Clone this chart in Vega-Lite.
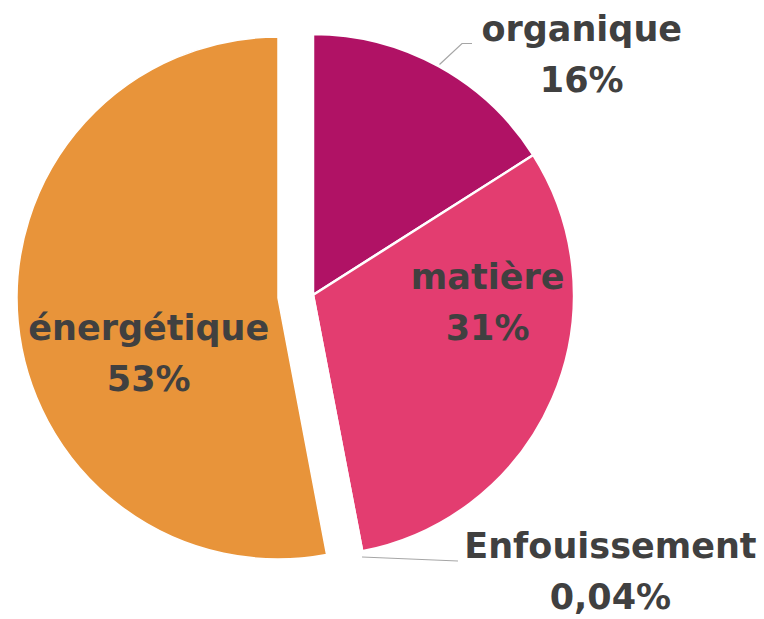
{
  "$schema": "https://vega.github.io/schema/vega-lite/v6.json",
  "width": 626,
  "height": 590,
  "autosize": "none",
  "padding": {"left": 0, "top": 0, "right": 138, "bottom": 29},
  "background": "white",
  "view": {"stroke": null},
  "data": {
    "values": [
      {"cat": "organique", "rank": 1, "value": 16, "label": "organique\n16%"},
      {"cat": "matière", "rank": 2, "value": 31, "label": "matière\n31%"},
      {"cat": "Enfouissement", "rank": 3, "value": 0.04, "label": "Enfouissement\n0,04%"},
      {"cat": "énergétique", "rank": 4, "value": 53, "label": "énergétique\n53%"}
    ]
  },
  "layer": [
    {
      "mark": {"type": "arc", "outerRadius": 261, "stroke": "white", "strokeWidth": 2.5},
      "encoding": {
        "theta": {"field": "value", "type": "quantitative", "stack": true},
        "order": {"field": "rank", "type": "quantitative"},
        "color": {"field": "cat", "type": "nominal", "legend": null,
          "scale": {"domain": ["organique", "matière", "Enfouissement", "énergétique"],
                    "range": ["#B01265", "#E33D70", "#7F7F7F", "#E8943A"]}},
        "opacity": {"condition": {"test": "datum.cat === 'énergétique'", "value": 0}, "value": 1}
      }
    },
    {
      "mark": {"type": "arc", "outerRadius": 261, "stroke": "white", "strokeWidth": 1.5, "xOffset": -35, "yOffset": 3},
      "encoding": {
        "theta": {"field": "value", "type": "quantitative", "stack": true},
        "order": {"field": "rank", "type": "quantitative"},
        "color": {"field": "cat", "type": "nominal", "legend": null},
        "opacity": {"condition": {"test": "datum.cat === 'énergétique'", "value": 1}, "value": 0}
      }
    },
    {
      "transform": [{"filter": "datum.cat === 'organique' || datum.cat === 'Enfouissement'"}],
      "mark": {"type": "point", "filled": false, "size": 4, "stroke": "#A6A6A6", "strokeWidth": 1.2, "opacity": 1},
      "encoding": {
        "shape": {"field": "cat", "type": "nominal", "legend": null,
          "scale": {"domain": ["organique", "Enfouissement"],
                    "range": ["M126.5,-230.5L149,-251.5L159,-251.5", "M49,262L145,266"]}}
      }
    },
    {
      "mark": {"type": "text", "radius": 340, "dx": 105, "dy": 33, "fontSize": 35, "fontWeight": "bold", "font": "DejaVu Sans", "fill": "#404040", "lineHeight": 51, "lineBreak": "\n", "align": "center", "baseline": "middle"},
      "encoding": {
        "theta": {"field": "value", "type": "quantitative", "stack": true},
        "order": {"field": "rank", "type": "quantitative"},
        "detail": {"field": "cat"},
        "text": {"condition": {"test": "datum.cat === 'organique'", "field": "label"}, "value": ""}
      }
    },
    {
      "mark": {"type": "text", "radius": 163, "dx": 25, "dy": -82, "fontSize": 35, "fontWeight": "bold", "font": "DejaVu Sans", "fill": "#404040", "lineHeight": 51, "lineBreak": "\n", "align": "center", "baseline": "middle"},
      "encoding": {
        "theta": {"field": "value", "type": "quantitative", "stack": true},
        "order": {"field": "rank", "type": "quantitative"},
        "detail": {"field": "cat"},
        "text": {"condition": {"test": "datum.cat === 'matière'", "field": "label"}, "value": ""}
      }
    },
    {
      "mark": {"type": "text", "radius": 169, "dx": 4, "dy": 18, "fontSize": 35, "fontWeight": "bold", "font": "DejaVu Sans", "fill": "#404040", "lineHeight": 51, "lineBreak": "\n", "align": "center", "baseline": "middle"},
      "encoding": {
        "theta": {"field": "value", "type": "quantitative", "stack": true},
        "order": {"field": "rank", "type": "quantitative"},
        "detail": {"field": "cat"},
        "text": {"condition": {"test": "datum.cat === 'énergétique'", "field": "label"}, "value": ""}
      }
    },
    {
      "mark": {"type": "text", "radius": 328, "dx": 236, "dy": -70, "fontSize": 35, "fontWeight": "bold", "font": "DejaVu Sans", "fill": "#404040", "lineHeight": 51, "lineBreak": "\n", "align": "center", "baseline": "middle"},
      "encoding": {
        "theta": {"field": "value", "type": "quantitative", "stack": true},
        "order": {"field": "rank", "type": "quantitative"},
        "detail": {"field": "cat"},
        "text": {"condition": {"test": "datum.cat === 'Enfouissement'", "field": "label"}, "value": ""}
      }
    }
  ]
}
